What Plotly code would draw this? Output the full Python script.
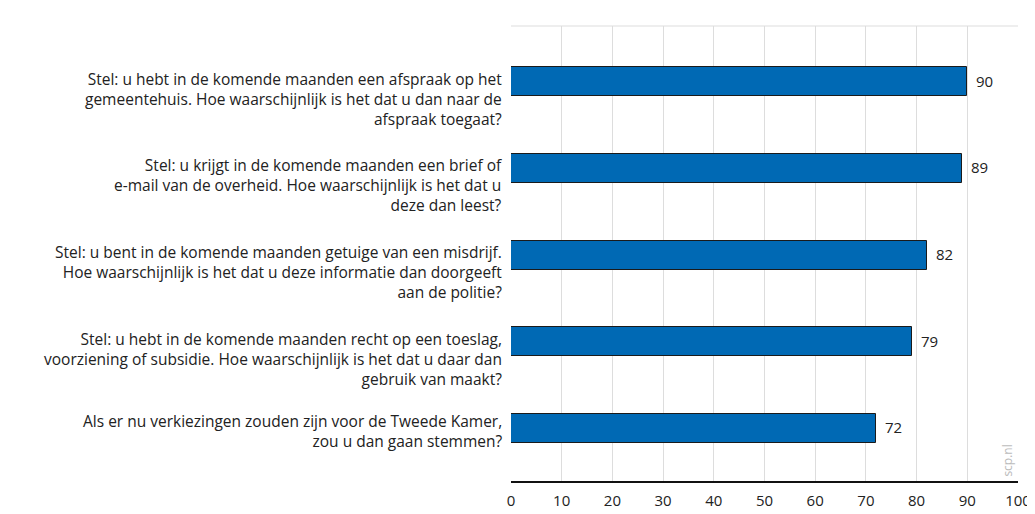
import plotly.graph_objects as go

categories = [
    "Stel: u hebt in de komende maanden een afspraak op het<br>gemeentehuis. Hoe waarschijnlijk is het dat u dan naar de<br>afspraak toegaat?",
    "Stel: u krijgt in de komende maanden een brief of<br>e-mail van de overheid. Hoe waarschijnlijk is het dat u<br>deze dan leest?",
    "Stel: u bent in de komende maanden getuige van een misdrijf.<br>Hoe waarschijnlijk is het dat u deze informatie dan doorgeeft<br>aan de politie?",
    "Stel: u hebt in de komende maanden recht op een toeslag,<br>voorziening of subsidie. Hoe waarschijnlijk is het dat u daar dan<br>gebruik van maakt?",
    "Als er nu verkiezingen zouden zijn voor de Tweede Kamer,<br>zou u dan gaan stemmen?",
]
values = [90, 89, 82, 79, 72]
x_ticks = [0, 10, 20, 30, 40, 50, 60, 70, 80, 90, 100]

FONT = "Open Sans"
TXT = "#222222"
pos = list(range(len(categories)))

fig = go.Figure()
fig.add_trace(go.Bar(
    x=values, y=pos, orientation="h",
    width=0.337,
    marker=dict(color="#0069b4", line=dict(color="#1a1a1a", width=1)),
    hoverinfo="skip",
))

annotations = []
for i, lab in enumerate(categories):
    nlines = lab.count("<br>") + 1
    annotations.append(dict(
        x=0, xref="paper", y=i, yref="y", xanchor="right", yanchor="middle",
        xshift=-7, yshift=-17 if nlines == 3 else -3,
        text=lab, showarrow=False, align="right",
        font=dict(family=FONT, size=15.5, color=TXT),
    ))
# value labels
for i, v in enumerate(values):
    annotations.append(dict(
        x=v, xref="x", y=i, yref="y", xanchor="left", yanchor="middle",
        xshift=7, yshift=1, text=str(v), showarrow=False,
        font=dict(family=FONT, size=15, color=TXT),
    ))
annotations.append(dict(
    x=0.979, xref="paper", y=0.006, yref="paper", xanchor="center", yanchor="bottom",
    text="scp.nl", textangle=-90, showarrow=False,
    font=dict(family=FONT, size=12, color="#bbbbbb"),
))

fig.update_layout(
    width=1035, height=514,
    margin=dict(l=503, r=14, t=18, b=29),
    plot_bgcolor="white", paper_bgcolor="white",
    showlegend=False,
    bargap=0,
    annotations=annotations,
    shapes=[dict(type="line", xref="paper", yref="paper", x0=0, x1=1, y0=1, y1=1,
                 line=dict(color="#dddddd", width=1))],
    xaxis=dict(range=[0, 100], tickvals=x_ticks, ticktext=[str(t) for t in x_ticks],
               showgrid=True, gridcolor="#dddddd", gridwidth=1,
               zeroline=False, showline=True, linecolor="#111111", linewidth=1.5,
               ticks="", ticklabelstandoff=5,
               tickfont=dict(family=FONT, size=15, color=TXT)),
    yaxis=dict(range=[4.607, -0.644], showticklabels=False, showgrid=False,
               zeroline=False, showline=False),
)
fig.write_html("out.html")
